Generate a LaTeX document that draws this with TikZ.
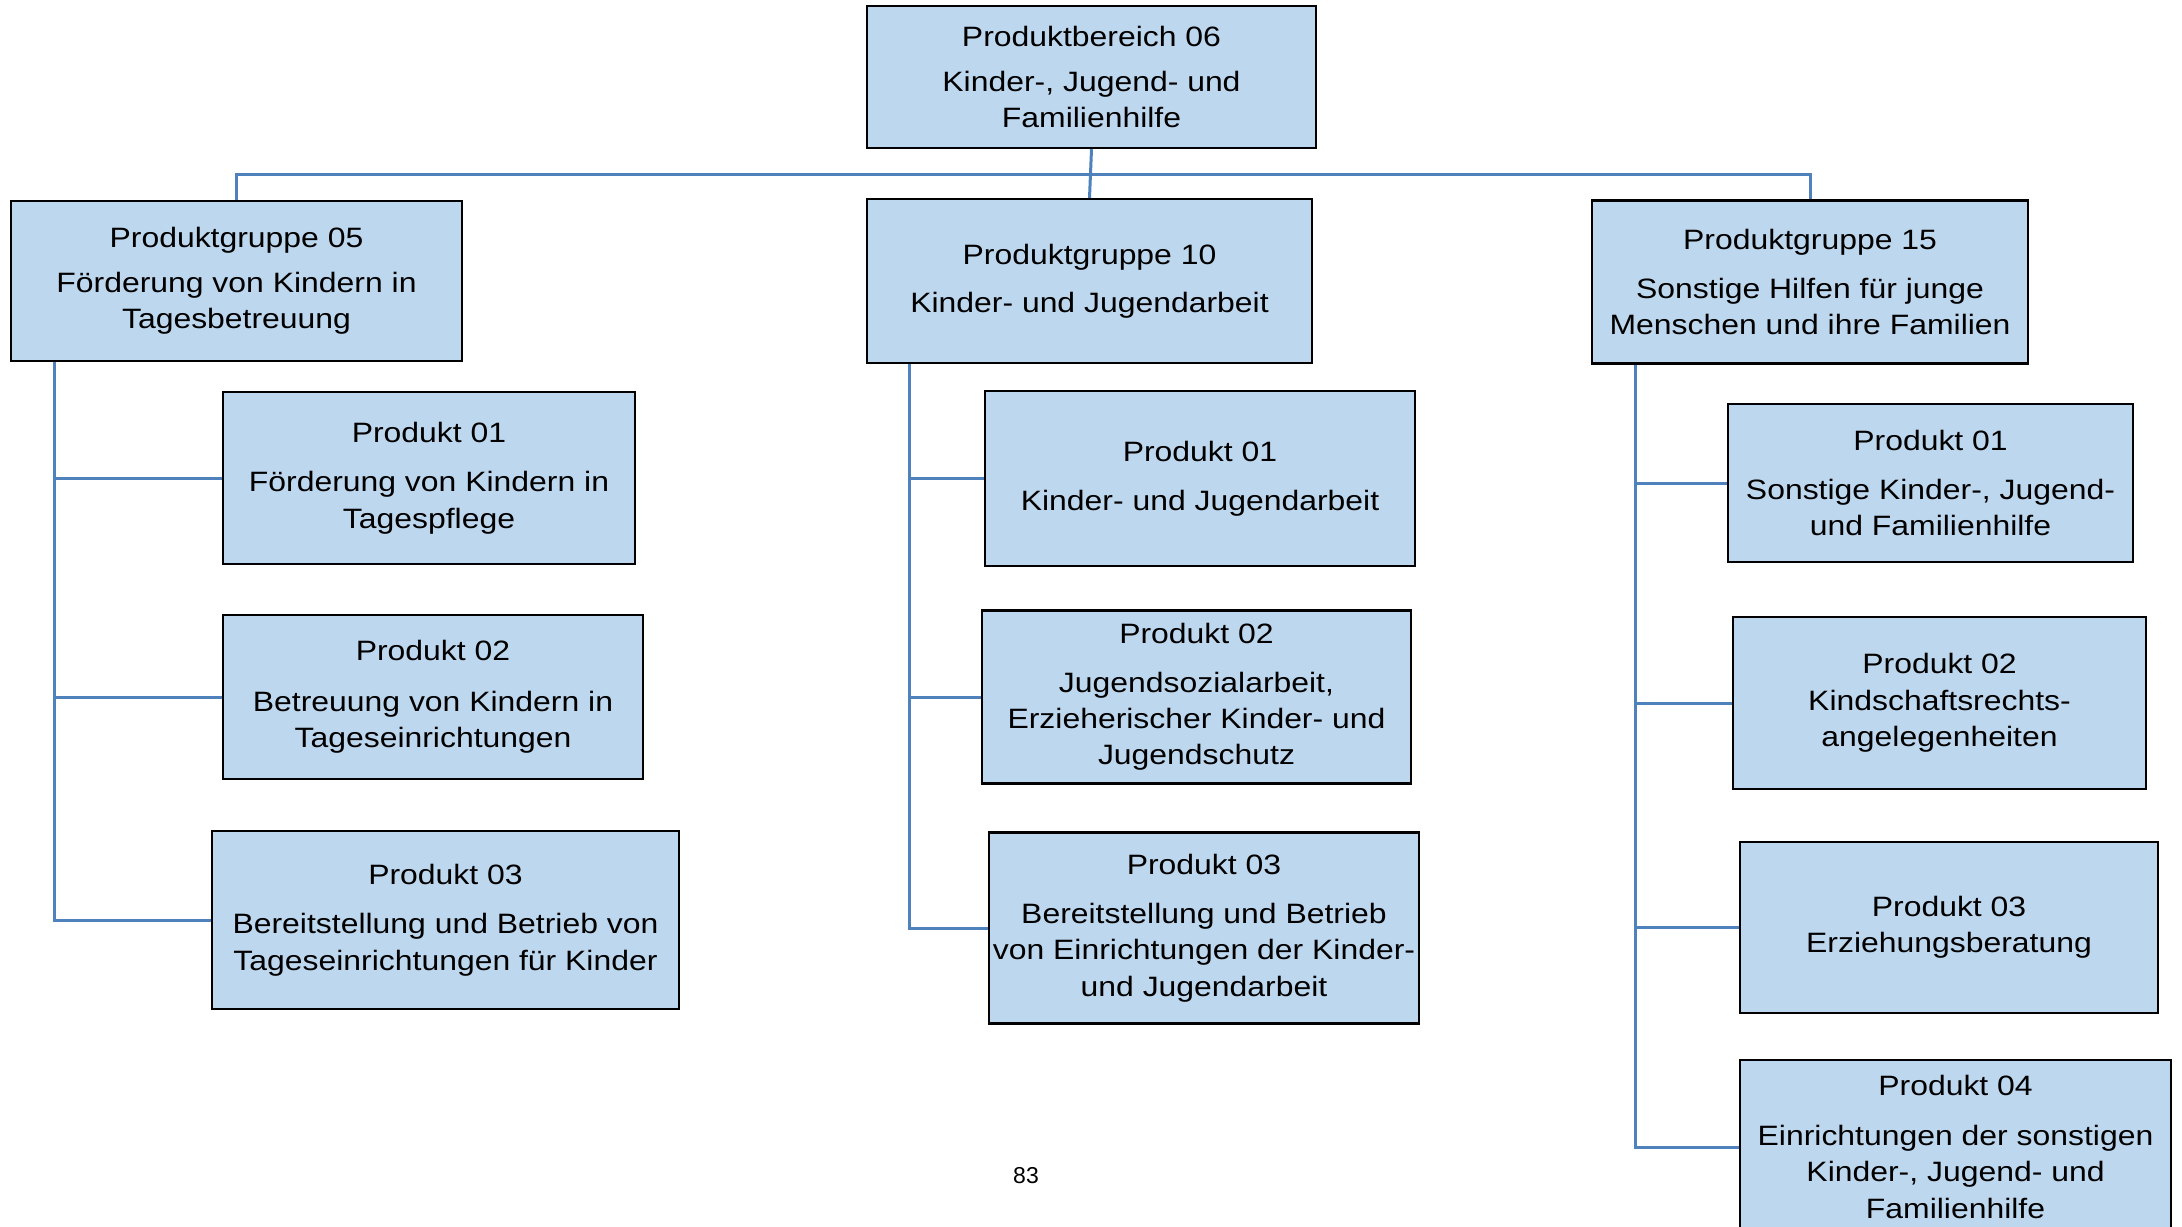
\documentclass[tikz,border=0pt]{standalone}
\usepackage{fontspec}
\setmainfont[FakeStretch=1.14]{Liberation Sans}
\newfontfamily\pagenumfont{Liberation Sans}
\definecolor{boxfill}{HTML}{BDD7EE}
\definecolor{linkblue}{HTML}{4F81BD}
\begin{document}
\begin{tikzpicture}[x=0.5pt,y=-0.5pt,
  box/.style={draw=black, line width=1.2pt, fill=boxfill, inner sep=0pt, align=center,
    font=\fontsize{14}{18.2}\selectfont},
  link/.style={draw=linkblue, line width=1.5pt}]
\clip (0,0) rectangle (2182,1226);
\fill[white] (0,0) rectangle (2182,1226);
% top
\node[box, minimum width=224.5pt, minimum height=71pt] (top) at (1091.5,77)
  {Produktbereich 06\\[4.5pt]Kinder-, Jugend- und\\Familienhilfe};
% groups
\node[box, minimum width=225.5pt, minimum height=80pt] (lg) at (236.5,281)
  {Produktgruppe 05\\[4pt]Förderung von Kindern in\\Tagesbetreuung};
\node[box, minimum width=222.5pt, minimum height=82pt] (mg) at (1089.5,281)
  {Produktgruppe 10\\[6pt]Kinder- und Jugendarbeit};
\node[box, minimum width=218pt, minimum height=81.5pt] (rg) at (1810,282)
  {Produktgruppe 15\\[6.5pt]Sonstige Hilfen für junge\\Menschen und ihre Familien};
% left products
\node[box, minimum width=206pt, minimum height=86pt] (lp1) at (429,478)
  {Produkt 01\\[6.5pt]Förderung von Kindern in\\Tagespflege};
\node[box, minimum width=210pt, minimum height=82pt] (lp2) at (433,697)
  {Produkt 02\\[7pt]Betreuung von Kindern in\\Tageseinrichtungen};
\node[box, minimum width=233.5pt, minimum height=89pt] (lp3) at (445.5,920)
  {Produkt 03\\[6.5pt]Bereitstellung und Betrieb von\\Tageseinrichtungen für Kinder};
% middle products
\node[box, minimum width=215pt, minimum height=87.5pt] (mp1) at (1200,478.5)
  {Produkt 01\\[6.5pt]Kinder- und Jugendarbeit};
\node[box, minimum width=214.5pt, minimum height=86.5pt] (mp2) at (1196.5,697)
  {Produkt 02\\[6pt]Jugendsozialarbeit,\\Erzieherischer Kinder- und\\Jugendschutz};
\node[box, minimum width=215pt, minimum height=95.5pt] (mp3) at (1204,928)
  {Produkt 03\\[6.5pt]Bereitstellung und Betrieb\\von Einrichtungen der Kinder-\\und Jugendarbeit};
% right products
\node[box, minimum width=202.5pt, minimum height=79pt] (rp1) at (1930.5,483)
  {Produkt 01\\[6.5pt]Sonstige Kinder-, Jugend-\\und Familienhilfe};
\node[box, minimum width=206.5pt, minimum height=86pt] (rp2) at (1939.5,703)
  {Produkt 02\\Kindschaftsrechts-\\angelegenheiten};
\node[box, minimum width=209pt, minimum height=85.5pt] (rp3) at (1949,927.5)
  {Produkt 03\\Erziehungsberatung};
\node[box, minimum width=215.5pt, minimum height=87pt] (rp4) at (1955.5,1147)
  {Produkt 04\\[6.5pt]Einrichtungen der sonstigen\\Kinder-, Jugend- und\\Familienhilfe};
% page number
\node[font=\pagenumfont\fontsize{11.5}{13}\selectfont, inner sep=0pt] (pn) at (1026,1176) {83};
% connectors top
\draw[link] (top.south) -- (mg.north);
\draw[link] (lg.north) -- ++(0,-25) -| (rg.north);
% left column
\coordinate (lv) at ([xshift=22.5pt]lg.south west);
\draw[link] (lv) |- (lp3.west);
\draw[link] (lp1.west) -- (lp1.west -| lv);
\draw[link] (lp2.west) -- (lp2.west -| lv);
% middle column
\coordinate (mv) at ([xshift=22pt]mg.south west);
\draw[link] (mv) |- (mp3.west);
\draw[link] (mp1.west) -- (mp1.west -| mv);
\draw[link] (mp2.west) -- (mp2.west -| mv);
% right column
\coordinate (rv) at ([xshift=22.5pt]rg.south west);
\draw[link] (rv) |- (rp4.west);
\draw[link] (rp1.west) -- (rp1.west -| rv);
\draw[link] (rp2.west) -- (rp2.west -| rv);
\draw[link] (rp3.west) -- (rp3.west -| rv);
\end{tikzpicture}
\end{document}
